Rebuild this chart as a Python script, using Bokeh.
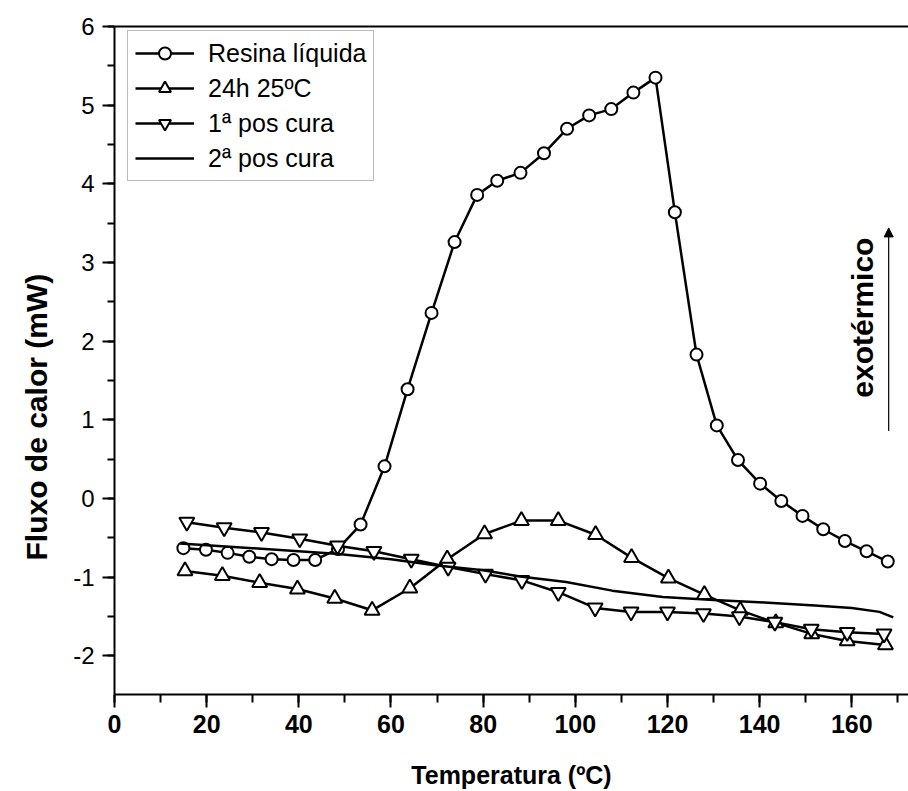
import math
from bokeh.plotting import figure
from bokeh.models import (LinearAxis, SingleIntervalTicker, FixedTicker, Legend, Title,
                          LegendItem, Arrow, NormalHead, Label, Range1d, PrintfTickFormatter)
from bokeh.embed import file_html
from bokeh.resources import INLINE

# ---- data ----
resina_x = [14.95, 19.85, 24.55, 29.25, 34.1, 38.85, 43.55, 48.5, 53.4, 58.6, 63.6, 68.8,
            73.8, 78.7, 83.05, 88.1, 93.2, 98.2, 103.0, 107.8, 112.6, 117.4, 121.6, 126.3,
            130.7, 135.3, 140.1, 144.7, 149.3, 153.8, 158.5, 163.2, 167.8]
resina_y = [-0.63, -0.65, -0.69, -0.74, -0.77, -0.78, -0.78, -0.64, -0.33, 0.41, 1.39, 2.36,
            3.26, 3.86, 4.04, 4.14, 4.39, 4.70, 4.87, 4.95, 5.16, 5.35, 3.64, 1.83,
            0.93, 0.49, 0.19, -0.03, -0.22, -0.39, -0.54, -0.67, -0.80]

h24_x = [15.3, 23.4, 31.5, 39.7, 47.8, 55.9, 64.1, 72.2, 80.3, 88.3, 96.3, 104.4, 112.2,
         120.2, 128.0, 135.8, 143.5, 151.3, 159.0, 167.3]
h24_y = [-0.92, -0.98, -1.07, -1.15, -1.27, -1.42, -1.14, -0.77, -0.45, -0.28, -0.28, -0.46,
         -0.75, -1.01, -1.22, -1.42, -1.58, -1.72, -1.81, -1.86]

pc1_x = [15.7, 23.8, 31.9, 40.2, 48.4, 56.3, 64.4, 72.4, 80.5, 88.4, 96.3, 104.3, 112.1,
         120.0, 127.8, 135.6, 143.3, 151.2, 159.0, 167.0]
pc1_y = [-0.30, -0.37, -0.43, -0.51, -0.60, -0.67, -0.77, -0.87, -0.96, -1.04, -1.19, -1.39,
         -1.44, -1.44, -1.46, -1.50, -1.57, -1.66, -1.70, -1.72]

pc2_x = [14.2, 30, 48, 60, 70, 80, 88, 98, 108, 119, 130, 141, 152, 160, 166, 169]
pc2_y = [-0.57, -0.63, -0.70, -0.77, -0.85, -0.91, -0.99, -1.06, -1.17, -1.25, -1.29, -1.32,
         -1.36, -1.39, -1.44, -1.51]

series_names = ["Resina líquida", "24h 25ºC", "1ª pos cura", "2ª pos cura"]
x_title = "Temperatura (ºC)"
y_title = "Fluxo de calor (mW)"
note_text = "exotérmico"

X_MIN, X_MAX = 0, 172.3
Y_MIN, Y_MAX = -2.49, 6

FONT = "Liberation Sans"

p = figure(width=908, height=791, x_range=Range1d(X_MIN, X_MAX), y_range=Range1d(Y_MIN, Y_MAX),
           output_backend="svg", toolbar_location=None,
           min_border_left=113, min_border_right=0, min_border_top=26, min_border_bottom=97)
p.xgrid.visible = False
p.ygrid.visible = False
p.outline_line_color = None
p.background_fill_color = "white"
p.border_fill_color = "white"

# x axis
xa = p.xaxis[0]
xa.ticker = SingleIntervalTicker(interval=20, num_minor_ticks=2)
xa.axis_line_width = 2
xa.major_tick_line_width = 2
xa.minor_tick_line_width = 2
xa.major_tick_out = 13
xa.major_tick_in = 0
xa.minor_tick_out = 8
xa.minor_tick_in = 0
xa.major_label_standoff = 7
xa.major_label_text_font = FONT
xa.major_label_text_font_style = "bold"
xa.major_label_text_font_size = "25px"
xa.major_label_text_color = "black"
xa.axis_label = x_title
xa.axis_label_text_font = FONT
xa.axis_label_text_font_style = "bold"
xa.axis_label_text_font_size = "25px"
xa.axis_label_text_color = "black"
xa.axis_label_standoff = 25

# y axis
ya = p.yaxis[0]
ya.ticker = SingleIntervalTicker(interval=1, num_minor_ticks=2)
ya.formatter = PrintfTickFormatter(format="%d")
ya.axis_line_width = 2
ya.major_tick_line_width = 2
ya.minor_tick_line_width = 2
ya.major_tick_out = 12
ya.major_tick_in = 0
ya.minor_tick_out = 7
ya.minor_tick_in = 0
ya.major_label_standoff = 8
ya.major_label_text_font = FONT
ya.major_label_text_font_style = "normal"
ya.major_label_text_font_size = "24px"
ya.major_label_text_color = "black"

# y title in the left panel, shifted a little below the frame centre as in the original
p.add_layout(Title(text=y_title, align="left", offset=134, standoff=35,
                   text_font=FONT, text_font_style="bold", text_font_size="30px",
                   text_color="black"), "left")

# top border line
top = LinearAxis(ticker=FixedTicker(ticks=[]), axis_line_width=2,
                 major_tick_out=0, major_tick_in=0, minor_tick_out=0, minor_tick_in=0,
                 major_label_text_font_size="0px")
p.add_layout(top, "above")

# series
lw = 2.5
r0l = p.line(resina_x, resina_y, line_color="black", line_width=lw)
r0m = p.scatter(resina_x, resina_y, marker="circle", size=12, fill_color="white",
                line_color="black", line_width=2)
r1l = p.line(h24_x, h24_y, line_color="black", line_width=lw)
r1m = p.scatter(h24_x, h24_y, marker="triangle", size=15, fill_color="white",
                line_color="black", line_width=2)
r2l = p.line(pc1_x, pc1_y, line_color="black", line_width=lw)
r2m = p.scatter(pc1_x, pc1_y, marker="inverted_triangle", size=15, fill_color="white",
                line_color="black", line_width=2)
r3l = p.line(pc2_x, pc2_y, line_color="black", line_width=lw)

items = [
    LegendItem(label=series_names[0], renderers=[r0l, r0m]),
    LegendItem(label=series_names[1], renderers=[r1l, r1m]),
    LegendItem(label=series_names[2], renderers=[r2l, r2m]),
    LegendItem(label=series_names[3], renderers=[r3l]),
]
legend = Legend(items=items, location=(13, 513), orientation="vertical",
                glyph_width=59, glyph_height=30, label_height=30, spacing=5,
                padding=7, margin=0, label_standoff=14,
                label_text_font=FONT, label_text_font_size="25px", label_text_color="black",
                border_line_color="#777777", border_line_width=1.5,
                background_fill_color="white", background_fill_alpha=1.0)
p.add_layout(legend, "center")

# exothermic arrow and note
p.add_layout(Arrow(end=NormalHead(size=9, fill_color="black", line_color="black", line_width=1),
                   x_start=168.0, y_start=0.86, x_end=168.0, y_end=3.44,
                   line_color="black", line_width=1.2))
p.add_layout(Label(x=162.4, y=2.3, text=note_text, angle=math.pi / 2,
                   text_align="center", text_baseline="middle",
                   text_font=FONT, text_font_style="bold", text_font_size="30px",
                   text_color="black"))

open("out.html", "w").write(file_html(p, INLINE))
